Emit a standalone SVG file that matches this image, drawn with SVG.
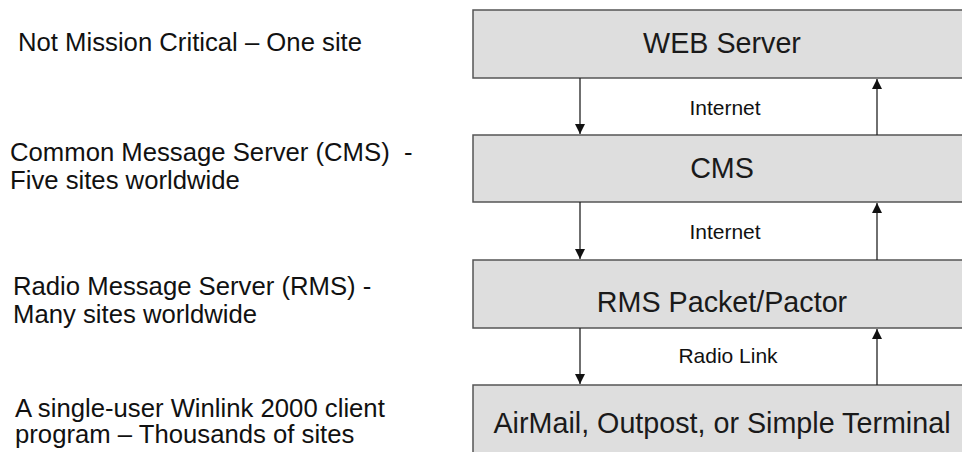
<svg xmlns="http://www.w3.org/2000/svg" width="962" height="452" viewBox="0 0 962 452">
<style>
.box{fill:#dedede;stroke:#555;stroke-width:1.5}
.bt{font-family:"Liberation Sans",Arial,sans-serif;font-size:28.7px;fill:#1a1a1a;text-anchor:middle}
.lt{font-family:"Liberation Sans",Arial,sans-serif;font-size:21px;fill:#111;text-anchor:middle}
.side{font-family:"Liberation Sans",Arial,sans-serif;font-size:25.7px;fill:#111;white-space:pre}
.conn{stroke:#222;stroke-width:1.3;fill:none}
</style>
<defs>
<marker id="ah" viewBox="0 0 10 10" refX="10" refY="5" markerWidth="10" markerHeight="10" markerUnits="userSpaceOnUse" orient="auto">
<path d="M0,0 L10,5 L0,10 z" fill="#111"/>
</marker>
</defs>
<rect width="962" height="452" fill="#fff"/>
<g id="side-labels">
<text class="side" x="18" y="51">Not Mission Critical – One site</text>
<text class="side" x="10" y="161" xml:space="preserve">Common Message Server (CMS)  -</text>
<text class="side" x="10" y="189">Five sites worldwide</text>
<text class="side" x="13" y="295">Radio Message Server (RMS) -</text>
<text class="side" x="13" y="323">Many sites worldwide</text>
<text class="side" x="15" y="417">A single-user Winlink 2000 client</text>
<text class="side" x="15" y="443">program – Thousands of sites</text>
</g>
<g id="web">
<rect class="box" x="473" y="10" width="500" height="68"/>
<text class="bt" x="722" y="53">WEB Server</text>
</g>
<g id="cms">
<rect class="box" x="473" y="135" width="500" height="67"/>
<text class="bt" x="722" y="178">CMS</text>
</g>
<g id="rms">
<rect class="box" x="473" y="260" width="500" height="68"/>
<text class="bt" x="722" y="312">RMS Packet/Pactor</text>
</g>
<g id="client">
<rect class="box" x="473" y="385" width="500" height="80"/>
<text class="bt" x="722" y="433">AirMail, Outpost, or Simple Terminal</text>
</g>
<g id="connectors">
<line class="conn" x1="580" y1="78" x2="580" y2="134" marker-end="url(#ah)"/>
<line class="conn" x1="877" y1="135" x2="877" y2="79" marker-end="url(#ah)"/>
<line class="conn" x1="580" y1="202" x2="580" y2="259" marker-end="url(#ah)"/>
<line class="conn" x1="877" y1="260" x2="877" y2="203" marker-end="url(#ah)"/>
<line class="conn" x1="580" y1="328" x2="580" y2="384" marker-end="url(#ah)"/>
<line class="conn" x1="877" y1="385" x2="877" y2="329" marker-end="url(#ah)"/>
<text class="lt" x="725" y="115">Internet</text>
<text class="lt" x="725" y="239">Internet</text>
<text class="lt" x="728" y="363">Radio Link</text>
</g>
</svg>
